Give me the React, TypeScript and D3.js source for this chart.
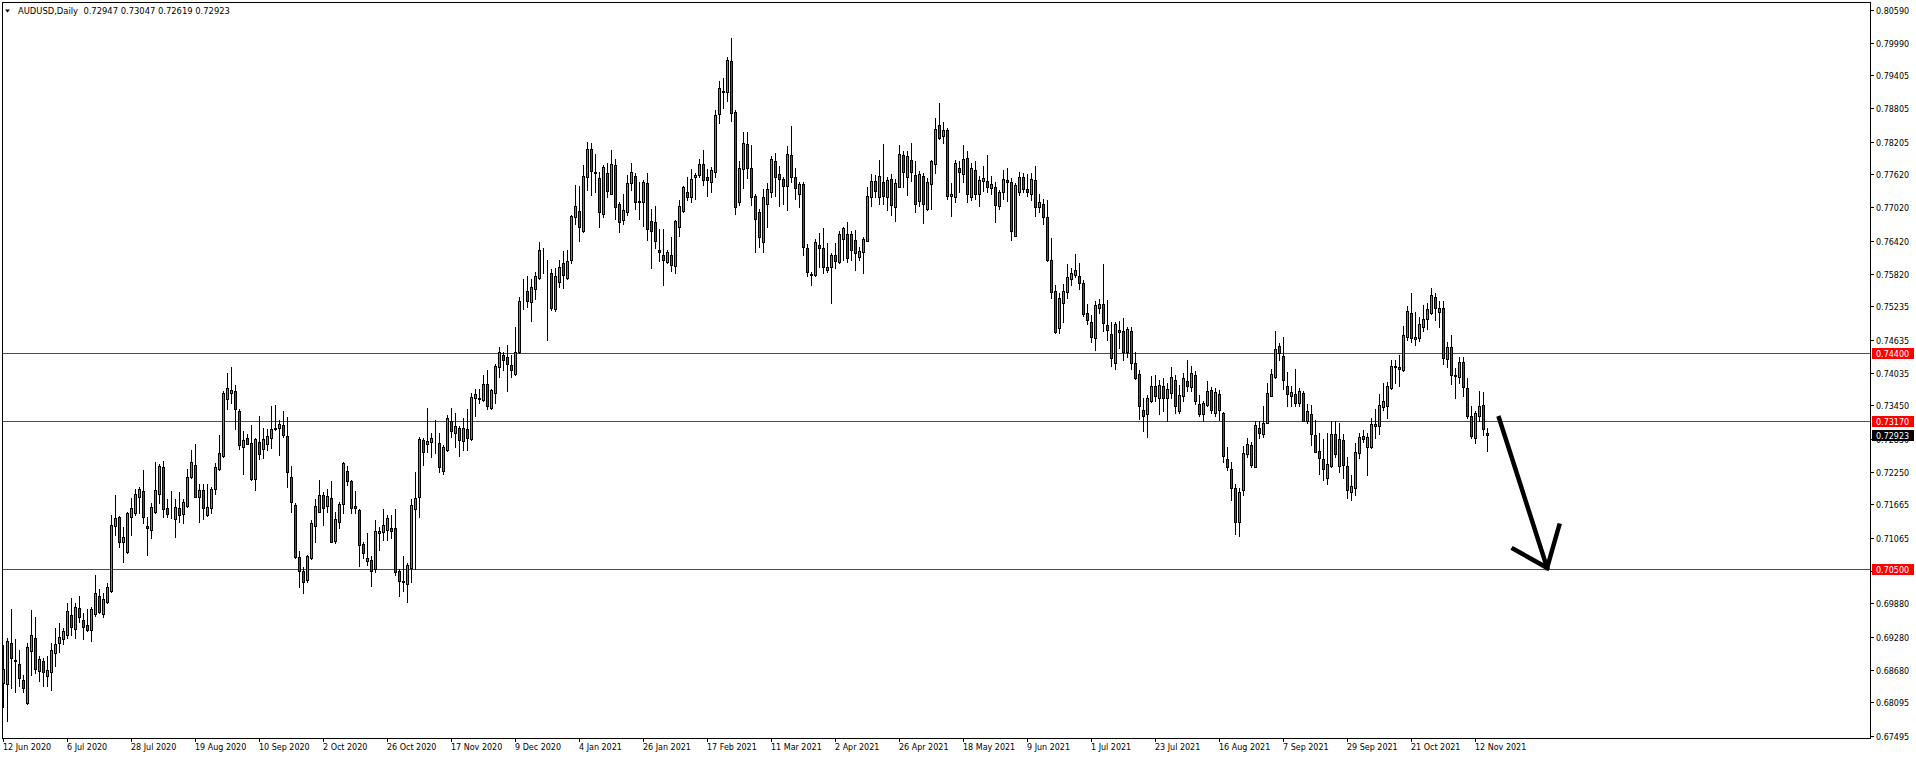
import React from 'react';
import * as d3 from 'd3';

const W = 1916;
const H = 759;

const SYMBOL = 'AUDUSD,Daily';
const LAST_BAR = [0.72947, 0.73047, 0.72619, 0.72923];

// [open, high, low, close], one per daily bar from 12 Jun 2020
const OHLC: number[][] = [
[0.6844,0.6913,0.6801,0.6869],[0.6842,0.6925,0.6776,0.6920],[0.6916,0.6978,0.6835,0.6889],[0.6885,0.6924,0.6828,0.6884],
[0.6879,0.6904,0.6838,0.6853],[0.6850,0.6859,0.6828,0.6835],[0.6808,0.6916,0.6806,0.6909],[0.6902,0.6976,0.6859,0.6930],
[0.6925,0.6964,0.6862,0.6869],[0.6865,0.6893,0.6847,0.6887],[0.6883,0.6889,0.6839,0.6864],[0.6856,0.6892,0.6839,0.6868],
[0.6864,0.6916,0.6832,0.6903],[0.6899,0.6943,0.6875,0.6914],[0.6916,0.6952,0.6901,0.6927],[0.6923,0.6943,0.6914,0.6938],
[0.6930,0.6988,0.6926,0.6974],[0.6966,0.6997,0.6930,0.6946],[0.6941,0.6988,0.6926,0.6981],[0.6979,0.7001,0.6954,0.6963],
[0.6957,0.6970,0.6923,0.6946],[0.6948,0.6977,0.6938,0.6939],[0.6939,0.6981,0.6920,0.6977],[0.6968,0.7039,0.6965,0.7006],
[0.7002,0.7013,0.6970,0.6972],[0.6968,0.7006,0.6963,0.6995],[0.6990,0.7024,0.6988,0.7017],[0.7010,0.7147,0.7008,0.7129],
[0.7127,0.7183,0.7111,0.7141],[0.7143,0.7145,0.7090,0.7098],[0.7098,0.7126,0.7063,0.7107],[0.7081,0.7153,0.7078,0.7150],
[0.7143,0.7178,0.7111,0.7159],[0.7150,0.7195,0.7147,0.7186],[0.7180,0.7198,0.7150,0.7195],[0.7190,0.7228,0.7133,0.7143],
[0.7127,0.7144,0.7075,0.7123],[0.7121,0.7168,0.7105,0.7161],[0.7152,0.7242,0.7151,0.7192],[0.7186,0.7239,0.7168,0.7236],
[0.7233,0.7245,0.7144,0.7158],[0.7159,0.7176,0.7144,0.7149],[0.7144,0.7190,0.7141,0.7143],[0.7140,0.7176,0.7108,0.7161],
[0.7159,0.7188,0.7135,0.7147],[0.7149,0.7176,0.7132,0.7170],[0.7163,0.7230,0.7161,0.7216],[0.7215,0.7264,0.7214,0.7242],
[0.7237,0.7275,0.7179,0.7180],[0.7179,0.7203,0.7135,0.7192],[0.7192,0.7204,0.7140,0.7159],[0.7147,0.7204,0.7145,0.7161],
[0.7159,0.7197,0.7150,0.7194],[0.7194,0.7241,0.7186,0.7234],[0.7230,0.7292,0.7228,0.7259],[0.7253,0.7370,0.7252,0.7367],
[0.7356,0.7404,0.7338,0.7376],[0.7368,0.7414,0.7350,0.7372],[0.7370,0.7382,0.7302,0.7338],[0.7334,0.7338,0.7266,0.7273],
[0.7270,0.7299,0.7222,0.7282],[0.7287,0.7293,0.7275,0.7276],[0.7277,0.7310,0.7210,0.7213],[0.7212,0.7287,0.7192,0.7284],
[0.7278,0.7326,0.7248,0.7257],[0.7266,0.7305,0.7250,0.7284],[0.7275,0.7302,0.7264,0.7289],[0.7287,0.7344,0.7268,0.7302],
[0.7302,0.7346,0.7300,0.7305],[0.7304,0.7319,0.7255,0.7311],[0.7310,0.7335,0.7288,0.7291],[0.7289,0.7324,0.7198,0.7225],
[0.7215,0.7236,0.7153,0.7170],[0.7165,0.7168,0.7069,0.7072],[0.7072,0.7082,0.7017,0.7046],[0.7046,0.7054,0.7006,0.7026],
[0.7030,0.7075,0.7026,0.7073],[0.7069,0.7138,0.7068,0.7132],[0.7128,0.7176,0.7099,0.7164],[0.7153,0.7210,0.7152,0.7183],
[0.7183,0.7189,0.7129,0.7159],[0.7164,0.7194,0.7153,0.7182],[0.7177,0.7209,0.7098,0.7099],[0.7101,0.7153,0.7096,0.7140],
[0.7135,0.7171,0.7123,0.7167],[0.7167,0.7242,0.7151,0.7241],[0.7227,0.7236,0.7201,0.7209],[0.7209,0.7210,0.7150,0.7160],
[0.7164,0.7191,0.7151,0.7159],[0.7156,0.7158,0.7055,0.7094],[0.7095,0.7099,0.7070,0.7078],[0.7065,0.7114,0.7057,0.7069],
[0.7066,0.7073,0.7020,0.7047],[0.7049,0.7138,0.7045,0.7118],[0.7114,0.7126,0.7084,0.7118],[0.7117,0.7158,0.7102,0.7129],
[0.7120,0.7147,0.7102,0.7141],[0.7123,0.7147,0.7105,0.7119],[0.7123,0.7158,0.7039,0.7045],[0.7047,0.7050,0.7002,0.7029],
[0.7028,0.7073,0.7010,0.7027],[0.7022,0.7060,0.6991,0.7057],[0.7052,0.7176,0.7027,0.7165],[0.7158,0.7224,0.7049,0.7178],
[0.7179,0.7288,0.7144,0.7284],[0.7283,0.7287,0.7237,0.7261],[0.7275,0.7340,0.7260,0.7281],[0.7278,0.7295,0.7252,0.7287],
[0.7281,0.7319,0.7259,0.7280],[0.7277,0.7295,0.7224,0.7233],[0.7227,0.7274,0.7221,0.7269],[0.7264,0.7328,0.7263,0.7322],
[0.7317,0.7340,0.7288,0.7299],[0.7296,0.7331,0.7270,0.7307],[0.7304,0.7307,0.7254,0.7283],[0.7281,0.7323,0.7264,0.7304],
[0.7302,0.7338,0.7264,0.7286],[0.7284,0.7367,0.7283,0.7360],[0.7359,0.7374,0.7325,0.7365],[0.7358,0.7374,0.7349,0.7357],
[0.7355,0.7400,0.7352,0.7383],[0.7383,0.7409,0.7338,0.7343],[0.7340,0.7374,0.7338,0.7372],[0.7367,0.7420,0.7350,0.7416],
[0.7414,0.7451,0.7397,0.7441],[0.7436,0.7442,0.7409,0.7426],[0.7432,0.7454,0.7371,0.7419],[0.7417,0.7436,0.7397,0.7408],
[0.7402,0.7487,0.7400,0.7442],[0.7441,0.7541,0.7439,0.7534],[0.7533,0.7573,0.7519,0.7534],[0.7551,0.7578,0.7523,0.7533],
[0.7531,0.7572,0.7497,0.7558],[0.7554,0.7586,0.7537,0.7578],[0.7574,0.7640,0.7573,0.7626],[0.7624,0.7629,0.7583,0.7623],
[0.7588,0.7607,0.7462,0.7587],[0.7583,0.7591,0.7517,0.7521],[0.7518,0.7592,0.7516,0.7578],[0.7567,0.7607,0.7559,0.7594],
[0.7601,0.7623,0.7557,0.7581],[0.7575,0.7625,0.7573,0.7606],[0.7608,0.7688,0.7601,0.7687],[0.7685,0.7742,0.7673,0.7705],
[0.7696,0.7741,0.7642,0.7666],[0.7659,0.7779,0.7658,0.7759],[0.7756,0.7820,0.7733,0.7807],[0.7807,0.7819,0.7725,0.7767],
[0.7765,0.7798,0.7729,0.7764],[0.7755,0.7766,0.7666,0.7694],[0.7691,0.7779,0.7685,0.7775],[0.7764,0.7782,0.7721,0.7732],
[0.7727,0.7806,0.7726,0.7780],[0.7779,0.7789,0.7681,0.7702],[0.7708,0.7712,0.7658,0.7676],[0.7679,0.7726,0.7673,0.7697],
[0.7693,0.7761,0.7688,0.7746],[0.7746,0.7782,0.7733,0.7765],[0.7759,0.7764,0.7700,0.7712],[0.7712,0.7747,0.7682,0.7713],
[0.7712,0.7751,0.7669,0.7747],[0.7746,0.7764,0.7643,0.7663],[0.7678,0.7699,0.7592,0.7660],[0.7675,0.7705,0.7628,0.7642],
[0.7625,0.7663,0.7606,0.7621],[0.7617,0.7663,0.7562,0.7608],[0.7604,0.7626,0.7601,0.7621],[0.7617,0.7649,0.7588,0.7599],
[0.7597,0.7679,0.7583,0.7678],[0.7666,0.7715,0.7650,0.7705],[0.7696,0.7741,0.7693,0.7738],[0.7730,0.7756,0.7715,0.7721],
[0.7720,0.7771,0.7712,0.7753],[0.7756,0.7764,0.7718,0.7761],[0.7761,0.7789,0.7757,0.7780],[0.7780,0.7806,0.7742,0.7751],
[0.7756,0.7771,0.7723,0.7751],[0.7748,0.7775,0.7730,0.7770],[0.7766,0.7878,0.7757,0.7869],[0.7870,0.7930,0.7854,0.7917],
[0.7912,0.7935,0.7881,0.7911],[0.7910,0.7974,0.7894,0.7968],[0.7966,0.8007,0.7858,0.7872],[0.7874,0.7878,0.7691,0.7703],
[0.7711,0.7786,0.7706,0.7773],[0.7771,0.7838,0.7737,0.7819],[0.7816,0.7838,0.7755,0.7773],[0.7773,0.7815,0.7706,0.7720],
[0.7722,0.7727,0.7621,0.7681],[0.7693,0.7700,0.7631,0.7648],[0.7639,0.7735,0.7621,0.7720],[0.7708,0.7746,0.7667,0.7735],
[0.7729,0.7795,0.7721,0.7789],[0.7785,0.7801,0.7723,0.7756],[0.7762,0.7777,0.7705,0.7753],[0.7753,0.7757,0.7709,0.7741],
[0.7741,0.7812,0.7697,0.7798],[0.7797,0.7849,0.7747,0.7756],[0.7756,0.7773,0.7718,0.7737],[0.7726,0.7748,0.7703,0.7744],
[0.7744,0.7748,0.7616,0.7631],[0.7628,0.7636,0.7578,0.7585],[0.7582,0.7585,0.7562,0.7581],[0.7580,0.7645,0.7578,0.7639],
[0.7634,0.7655,0.7595,0.7629],[0.7628,0.7664,0.7583,0.7595],[0.7590,0.7638,0.7586,0.7595],[0.7594,0.7619,0.7530,0.7617],
[0.7616,0.7637,0.7592,0.7606],[0.7603,0.7660,0.7601,0.7654],[0.7645,0.7667,0.7608,0.7664],[0.7654,0.7676,0.7604,0.7611],
[0.7654,0.7660,0.7607,0.7625],[0.7643,0.7661,0.7589,0.7619],[0.7613,0.7630,0.7607,0.7623],[0.7621,0.7648,0.7583,0.7645],
[0.7642,0.7739,0.7641,0.7723],[0.7720,0.7762,0.7705,0.7749],[0.7749,0.7761,0.7721,0.7732],[0.7721,0.7788,0.7709,0.7759],
[0.7747,0.7816,0.7709,0.7723],[0.7721,0.7757,0.7697,0.7751],[0.7753,0.7762,0.7688,0.7706],[0.7702,0.7753,0.7678,0.7746],
[0.7739,0.7815,0.7739,0.7798],[0.7797,0.7803,0.7739,0.7765],[0.7757,0.7803,0.7724,0.7795],[0.7788,0.7819,0.7750,0.7765],
[0.7761,0.7785,0.7694,0.7709],[0.7714,0.7768,0.7705,0.7762],[0.7759,0.7764,0.7674,0.7709],[0.7699,0.7755,0.7697,0.7747],
[0.7744,0.7788,0.7700,0.7786],[0.7780,0.7863,0.7764,0.7843],[0.7851,0.7890,0.7825,0.7827],[0.7831,0.7856,0.7819,0.7842],
[0.7842,0.7845,0.7718,0.7723],[0.7723,0.7746,0.7687,0.7727],[0.7721,0.7788,0.7712,0.7782],[0.7773,0.7785,0.7730,0.7766],
[0.7762,0.7815,0.7747,0.7789],[0.7791,0.7803,0.7711,0.7726],[0.7720,0.7783,0.7715,0.7774],[0.7769,0.7785,0.7718,0.7727],
[0.7727,0.7759,0.7705,0.7751],[0.7750,0.7777,0.7732,0.7755],[0.7750,0.7797,0.7730,0.7739],[0.7737,0.7759,0.7727,0.7744],
[0.7738,0.7747,0.7676,0.7706],[0.7705,0.7733,0.7699,0.7729],[0.7729,0.7770,0.7718,0.7753],[0.7751,0.7773,0.7714,0.7748],
[0.7748,0.7755,0.7643,0.7660],[0.7651,0.7746,0.7650,0.7742],[0.7730,0.7766,0.7724,0.7756],[0.7756,0.7764,0.7730,0.7735],
[0.7735,0.7762,0.7723,0.7730],[0.7727,0.7764,0.7715,0.7753],[0.7751,0.7777,0.7687,0.7702],[0.7703,0.7726,0.7693,0.7711],
[0.7709,0.7717,0.7673,0.7685],[0.7684,0.7715,0.7606,0.7607],[0.7607,0.7646,0.7539,0.7550],[0.7551,0.7562,0.7476,0.7478],
[0.7484,0.7548,0.7476,0.7538],[0.7529,0.7563,0.7495,0.7551],[0.7550,0.7600,0.7538,0.7576],[0.7572,0.7592,0.7562,0.7584],
[0.7580,0.7618,0.7577,0.7589],[0.7578,0.7602,0.7554,0.7565],[0.7565,0.7571,0.7506,0.7510],[0.7511,0.7527,0.7491,0.7499],
[0.7495,0.7508,0.7460,0.7469],[0.7466,0.7534,0.7444,0.7526],[0.7521,0.7537,0.7512,0.7527],[0.7527,0.7600,0.7480,0.7493],
[0.7490,0.7535,0.7462,0.7481],[0.7473,0.7495,0.7416,0.7431],[0.7422,0.7496,0.7410,0.7491],[0.7477,0.7498,0.7448,0.7481],
[0.7479,0.7502,0.7426,0.7442],[0.7442,0.7487,0.7433,0.7482],[0.7479,0.7487,0.7410,0.7422],[0.7421,0.7442,0.7392,0.7394],
[0.7401,0.7409,0.7320,0.7344],[0.7337,0.7358,0.7299,0.7326],[0.7329,0.7364,0.7288,0.7358],[0.7352,0.7398,0.7351,0.7380],
[0.7380,0.7400,0.7352,0.7362],[0.7358,0.7391,0.7329,0.7382],[0.7380,0.7394,0.7335,0.7358],[0.7358,0.7385,0.7316,0.7374],
[0.7367,0.7415,0.7358,0.7396],[0.7391,0.7400,0.7331,0.7343],[0.7334,0.7382,0.7331,0.7364],[0.7361,0.7404,0.7353,0.7394],
[0.7389,0.7427,0.7370,0.7379],[0.7378,0.7416,0.7371,0.7403],[0.7400,0.7407,0.7347,0.7353],[0.7347,0.7364,0.7326,0.7329],
[0.7329,0.7352,0.7316,0.7349],[0.7346,0.7389,0.7343,0.7371],[0.7373,0.7378,0.7331,0.7337],[0.7331,0.7376,0.7325,0.7369],
[0.7365,0.7373,0.7319,0.7337],[0.7331,0.7333,0.7242,0.7254],[0.7248,0.7270,0.7228,0.7234],[0.7230,0.7243,0.7174,0.7196],
[0.7196,0.7203,0.7113,0.7135],[0.7135,0.7196,0.7109,0.7189],[0.7192,0.7272,0.7183,0.7259],[0.7257,0.7286,0.7252,0.7275],
[0.7274,0.7279,0.7234,0.7237],[0.7234,0.7316,0.7233,0.7310],[0.7304,0.7316,0.7286,0.7296],[0.7293,0.7343,0.7288,0.7314],
[0.7314,0.7385,0.7313,0.7367],[0.7362,0.7411,0.7361,0.7402],[0.7397,0.7479,0.7394,0.7446],[0.7452,0.7458,0.7427,0.7439],
[0.7434,0.7469,0.7374,0.7391],[0.7380,0.7406,0.7344,0.7365],[0.7361,0.7379,0.7344,0.7369],[0.7365,0.7411,0.7344,0.7350],
[0.7349,0.7376,0.7343,0.7371],[0.7367,0.7370,0.7316,0.7317],[0.7317,0.7347,0.7313,0.7335],[0.7329,0.7346,0.7274,0.7293],
[0.7292,0.7319,0.7260,0.7261],[0.7263,0.7295,0.7221,0.7250],[0.7248,0.7284,0.7210,0.7230],[0.7214,0.7295,0.7203,0.7239],
[0.7236,0.7317,0.7234,0.7293],[0.7293,0.7317,0.7252,0.7257],[0.7236,0.7313,0.7225,0.7284],[0.7283,0.7293,0.7214,0.7237],
[0.7236,0.7252,0.7178,0.7192],[0.7189,0.7219,0.7174,0.7200],[0.7196,0.7277,0.7183,0.7260],[0.7259,0.7295,0.7250,0.7288],
[0.7290,0.7301,0.7279,0.7284],[0.7270,0.7295,0.7219,0.7288],[0.7269,0.7322,0.7268,0.7311],[0.7307,0.7338,0.7286,0.7312],
[0.7307,0.7365,0.7293,0.7346],[0.7342,0.7385,0.7337,0.7352],[0.7344,0.7388,0.7323,0.7380],[0.7376,0.7427,0.7374,0.7416],
[0.7414,0.7427,0.7385,0.7416],[0.7414,0.7436,0.7379,0.7410],[0.7408,0.7488,0.7407,0.7472],[0.7469,0.7524,0.7463,0.7515],
[0.7511,0.7547,0.7460,0.7466],[0.7464,0.7514,0.7454,0.7468],[0.7466,0.7505,0.7461,0.7492],[0.7486,0.7526,0.7479,0.7500],
[0.7500,0.7529,0.7482,0.7519],[0.7511,0.7556,0.7509,0.7544],[0.7540,0.7547,0.7499,0.7520],[0.7514,0.7534,0.7486,0.7520],
[0.7520,0.7533,0.7419,0.7431],[0.7428,0.7460,0.7415,0.7450],[0.7450,0.7472,0.7384,0.7399],[0.7399,0.7413,0.7359,0.7398],
[0.7396,0.7433,0.7385,0.7424],[0.7424,0.7433,0.7361,0.7378],[0.7377,0.7395,0.7323,0.7325],[0.7326,0.7343,0.7287,0.7290],
[0.7287,0.7335,0.7277,0.7331],[0.7325,0.7371,0.7316,0.7343],[0.7346,0.7369,0.7292,0.7302],
LAST_BAR,
];

const DATE_LABELS = [
  '12 Jun 2020', '6 Jul 2020', '28 Jul 2020', '19 Aug 2020', '10 Sep 2020', '2 Oct 2020',
  '26 Oct 2020', '17 Nov 2020', '9 Dec 2020', '4 Jan 2021', '26 Jan 2021', '17 Feb 2021',
  '11 Mar 2021', '2 Apr 2021', '26 Apr 2021', '18 May 2021', '9 Jun 2021', '1 Jul 2021',
  '23 Jul 2021', '16 Aug 2021', '7 Sep 2021', '29 Sep 2021', '21 Oct 2021', '12 Nov 2021',
];
const DATE_LABEL_STEP = 16; // bars between date labels

const PRICE_TICKS = [
  0.80590, 0.79990, 0.79405, 0.78805, 0.78205, 0.77620, 0.77020, 0.76420, 0.75820, 0.75235,
  0.74635, 0.74035, 0.73450, 0.72850, 0.72250, 0.71665, 0.71065, 0.70465, 0.69880, 0.69280,
  0.68680, 0.68095, 0.67495,
];

const LEVELS = [0.744, 0.7317, 0.705];

// hand-drawn arrow, in (bar index, price)
const ARROW_SHAFT = [[373.9, 0.7322], [385.9, 0.7052]];
const ARROW_HEAD = [[377.5, 0.7086], [385.9, 0.7052], [388.9, 0.7128]];

const FONT = '"DejaVu Sans", Tahoma, sans-serif';
const UP = '#35b335';
const DOWN = '#e01414';

export default function App() {
  const x = d3.scaleLinear().domain([0, OHLC.length - 1]).range([3.5, 1487.5]);
  const y = d3.scaleLinear().domain([0.67495, 0.80590]).range([735.5, 9.5]);
  const r = (v: number) => Math.round(v);
  const plotRight = 1870;
  const plotBottom = 738;

  const line = d3.line<number[]>().x((d) => x(d[0])).y((d) => y(d[1]));

  return (
    <svg width={W} height={H} style={{ position: 'absolute', left: 0, top: 0, background: '#fff' }}
      shapeRendering="crispEdges">
      <rect x={0} y={0} width={W} height={H} fill="#fff" />
      {/* frame */}
      <rect x={2.5} y={2.5} width={plotRight - 2} height={plotBottom - 2} fill="none" stroke="#000" />

      {/* support / resistance levels */}
      {LEVELS.map((lv) => (
        <line key={lv} x1={3} x2={plotRight} y1={r(y(lv)) + 0.5} y2={r(y(lv)) + 0.5} stroke="#ff0000" />
      ))}

      {/* candles */}
      {OHLC.map((d, i) => {
        const [o, h, l, c] = d;
        const cx = x(i);
        const top = r(y(Math.max(o, c)));
        const bot = r(y(Math.min(o, c)));
        const fill = c > o ? UP : c < o ? DOWN : '#000';
        return (
          <g key={i}>
            <line x1={cx} x2={cx} y1={r(y(h))} y2={r(y(l)) + 1} stroke="#000" />
            <rect x={cx - 1} y={top + 0.5} width={2} height={Math.max(bot - top, 0)} fill={fill} stroke="#000" />
          </g>
        );
      })}

      {/* arrow */}
      <g shapeRendering="auto" fill="none" stroke="#000" strokeWidth={4.5} strokeLinecap="square" strokeLinejoin="miter">
        <path d={line(ARROW_SHAFT) || ''} />
        <path d={line(ARROW_HEAD) || ''} />
      </g>

      {/* price axis */}
      {PRICE_TICKS.map((p) => {
        const yy = r(y(p));
        return (
          <g key={p}>
            <line x1={plotRight} x2={plotRight + 4} y1={yy + 0.5} y2={yy + 0.5} stroke="#000" />
            <text x={plotRight + 6} y={yy + 3.5} fontFamily={FONT} fontSize={8} fill="#000">{p.toFixed(5)}</text>
          </g>
        );
      })}
      {LEVELS.map((lv) => {
        const yy = r(y(lv));
        return (
          <g key={'lb' + lv}>
            <rect x={plotRight + 2} y={yy - 5} width={42} height={11} fill="#ff0000" />
            <text x={plotRight + 6} y={yy + 3.5} fontFamily={FONT} fontSize={8} fill="#fff">{lv.toFixed(5)}</text>
          </g>
        );
      })}
      {(() => {
        const last = LAST_BAR[3];
        const yy = r(y(last));
        return (
          <g>
            <rect x={plotRight + 2} y={yy - 5} width={42} height={11} fill="#000" />
            <text x={plotRight + 6} y={yy + 3.5} fontFamily={FONT} fontSize={8} fill="#fff">{last.toFixed(5)}</text>
          </g>
        );
      })()}

      {/* time axis */}
      {DATE_LABELS.map((lab, k) => {
        const xx = x(k * DATE_LABEL_STEP);
        return (
          <g key={lab}>
            <line x1={xx} x2={xx} y1={plotBottom} y2={plotBottom + 4} stroke="#000" />
            <text x={xx - 0.5} y={plotBottom + 12} fontFamily={FONT} fontSize={8} fill="#000">{lab}</text>
          </g>
        );
      })}

      {/* header */}
      <path d="M5,9.5 L10,9.5 L7.5,12.5 Z" fill="#000" shapeRendering="auto" />
      <text x={18} y={13.5} fontFamily={FONT} fontSize={8.4} fill="#000" xmlSpace="preserve">
        {`${SYMBOL}  ${LAST_BAR.map((v) => v.toFixed(5)).join(' ')}`}
      </text>
    </svg>
  );
}
